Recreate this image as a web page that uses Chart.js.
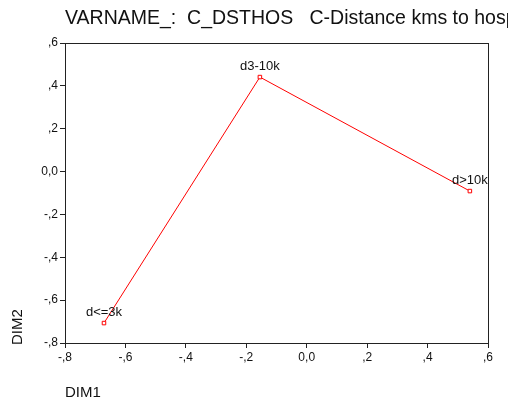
<!DOCTYPE html>
<html>
<head>
<meta charset="utf-8">
<script src="https://cdn.jsdelivr.net/npm/chart.js@4.4.0/dist/chart.umd.min.js"></script>
<style>
  body { margin: 0; background: #fff; }
</style>
</head>
<body>
<canvas id="chart" width="508" height="408"></canvas>
<script>
const chartTitle = "VARNAME_:  C_DSTHOS   C-Distance kms to hospital";
const categories = ["d<=3k", "d3-10k", "d>10k"];
const dim1 = [-0.671, -0.155, 0.540];
const dim2 = [-0.707, 0.441, -0.091];
const tickValues = [-0.8, -0.6, -0.4, -0.2, 0, 0.2, 0.4, 0.6];
const tickLabels = ["-,8", "-,6", "-,4", "-,2", "0,0", ",2", ",4", ",6"];

const FONT = "Arial, 'Liberation Sans', sans-serif";

// frame, point labels, title and axis titles
const extras = {
  id: "extras",
  afterDatasetsDraw(chart) {
    const ctx = chart.ctx;
    const a = chart.chartArea;
    ctx.save();
    ctx.strokeStyle = "#222";
    ctx.lineWidth = 1;
    ctx.strokeRect(a.left + 0.5, a.top + 0.5, a.right - a.left, a.bottom - a.top);

    ctx.fillStyle = "#111";
    ctx.font = "13px " + FONT;
    ctx.textAlign = "center";
    ctx.textBaseline = "bottom";
    chart.getDatasetMeta(0).data.forEach((pt, i) => {
      ctx.fillText(categories[i], pt.x, pt.y - 4);
    });

    ctx.textAlign = "left";
    ctx.textBaseline = "alphabetic";
    ctx.font = "19.5px " + FONT;
    ctx.fillText(chartTitle, a.left, 23.5);

    ctx.textBaseline = "middle";
    ctx.font = "15px " + FONT;
    ctx.fillText("DIM1", a.left, 393);

    ctx.translate(18, a.bottom + 2);
    ctx.rotate(-Math.PI / 2);
    ctx.fillText("DIM2", 0, 0);
    ctx.restore();
  }
};

const axis = (pos) => ({
  type: "linear",
  position: pos,
  min: -0.8,
  max: 0.6,
  afterBuildTicks: (s) => { s.ticks = tickValues.map((v) => ({ value: v })); },
  ticks: {
    color: "#111",
    font: { family: FONT, size: 12 },
    padding: 2,
    callback: (v) => tickLabels[tickValues.findIndex((t) => Math.abs(t - v) < 1e-6)]
  },
  grid: { display: true, drawOnChartArea: false, tickLength: 5, color: "#222" },
  border: { display: true, color: "#222" },
  afterFit: (s) => {
    if (pos === "left") s.width = 65;
    else s.height = 65;
  }
});

new Chart(document.getElementById("chart"), {
  type: "scatter",
  data: {
    datasets: [{
      data: dim1.map((x, i) => ({ x: x, y: dim2[i] })),
      showLine: true,
      borderColor: "#ff0000",
      borderWidth: 1,
      pointStyle: "rect",
      pointRadius: 2.5,
      pointBorderColor: "#ff0000",
      pointBackgroundColor: "#ffffff",
      pointBorderWidth: 1
    }]
  },
  options: {
    responsive: false,
    animation: false,
    layout: { padding: { left: 0, right: 20, top: 43, bottom: 0 } },
    plugins: { legend: { display: false }, tooltip: { enabled: false } },
    scales: { x: axis("bottom"), y: axis("left") }
  },
  plugins: [extras]
});
</script>
</body>
</html>
